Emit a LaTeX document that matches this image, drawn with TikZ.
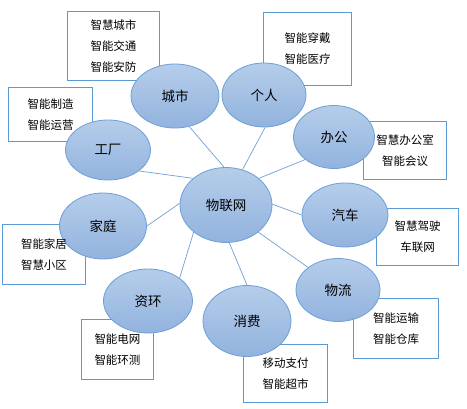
\documentclass[tikz,border=0pt]{standalone}
\usepackage{fontspec}
\setmainfont{Noto Sans CJK SC}
\usetikzlibrary{shapes.geometric}
\pgfdeclarelayer{back}
\pgfsetlayers{back,main}
\definecolor{elltop}{HTML}{B5CDEA}
\definecolor{ellbot}{HTML}{92B3DE}
\definecolor{ellline}{HTML}{6E9FD6}
\definecolor{boxline}{HTML}{5B9BD5}

\begin{document}
\begin{tikzpicture}[x=1pt,y=-1pt,
    main/.style = {ellipse, draw=ellline, line width=0.8pt, top color=elltop, bottom color=ellbot,
      inner sep=0pt, minimum width=86pt, minimum height=64pt, font=\fontsize{13.5}{16}\selectfont},
    tag/.style = {align=center, inner sep=0pt, font=\fontsize{11.5}{21}\selectfont},
    link/.style = {draw=ellline, line width=0.7pt}]
  \useasboundingbox (0,0) rectangle (467,409);

  % ellipses
  \node[main, minimum width=92pt, minimum height=75pt](iot) at (226,205){物联网};
  \node[main, minimum width=88pt](city) at (175,96){城市};
  \node[main, minimum width=85pt, minimum height=60pt](factory) at (108,150){工厂};
  \node[main, minimum width=84pt](person) at (264,95){个人};
  \node[main, minimum width=81pt, minimum height=63pt](office) at (334,137){办公};
  \node[main](car) at (345,215){汽车};
  \node[main, minimum width=84pt, minimum height=63pt](logis) at (338,290){物流};
  \node[main, minimum width=88pt, minimum height=71pt](consume) at (247,321){消费};
  \node[main, minimum width=89pt](envir) at (148,301){资环};
  \node[main, minimum width=87pt, minimum height=66pt](home) at (103,226){家庭};

  % boxes
  \node[tag, minimum width=91pt, minimum height=68pt](cityb) at (113.5,46){智慧城市\\智能交通\\智能安防};
  \node[tag, minimum width=83pt, minimum height=53pt](factoryb) at (50.5,114.5){智能制造\\智能运营};
  \node[tag, minimum width=87pt, minimum height=72pt](personb) at (307.5,49){智能穿戴\\智能医疗};
  \node[tag, minimum width=82pt, minimum height=57pt](officeb) at (405,150.5){智慧办公室\\智能会议};
  \node[tag, minimum width=81pt, minimum height=56pt](carb) at (417.5,237){智慧驾驶\\车联网};
  \node[tag, minimum width=84pt, minimum height=59pt](logisb) at (396,328.5){智能运输\\智能仓库};
  \node[tag, minimum width=83pt, minimum height=57pt](consumeb) at (285.5,373.5){移动支付\\智能超市};
  \node[tag, minimum width=71pt, minimum height=59pt](envirb) at (117.5,349.5){智能电网\\智能环测};
  \node[tag, minimum width=82pt, minimum height=59pt](homeb) at (44,254.5){智能家居\\智慧小区};

  \begin{pgfonlayer}{back}
    \foreach \b in {cityb,factoryb,personb,officeb,carb,logisb,consumeb,envirb,homeb}
      \draw[boxline, line width=0.8pt] (\b.north west) rectangle (\b.south east);
    \path[link]
      (iot.93) edge (city.-65)
      (iot.65) edge (person.-88)
      (iot.39) edge (office.-142)
      (iot.1) edge (car.180)
      (iot.-40) edge (logis.143)
      (iot.-85) edge (consume.90)
      (iot.-140) edge (envir.36)
      (iot.178) edge (home.0)
      (iot.141) edge (factory.-34)
      ;
  \end{pgfonlayer}
\end{tikzpicture}
\end{document}
